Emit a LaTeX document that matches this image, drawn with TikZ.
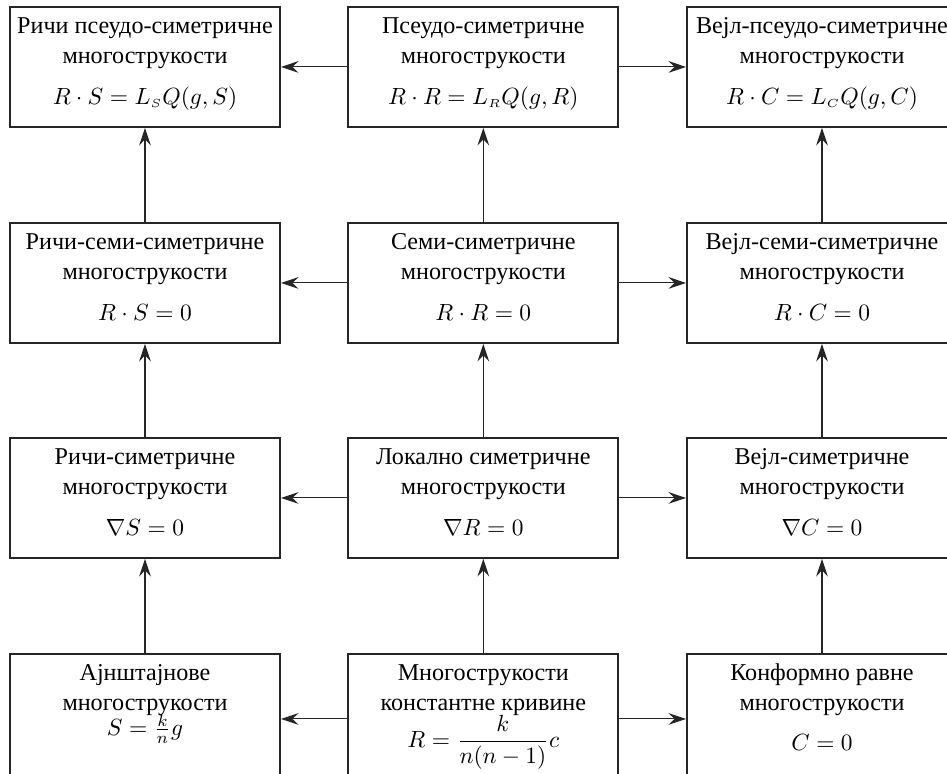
\documentclass[tikz,border=0pt]{standalone}
\usepackage[no-math]{fontspec}
\setmainfont{Liberation Serif}
\usepackage{amsmath}
\usetikzlibrary{arrows.meta,calc}
\def\mfrow{0.415}
\def\mfrowb{0.865}
\tikzset{
  mfframe/.style={draw=black!85,line width=0.8pt,minimum width=4.05cm,
      minimum height=1.8cm,inner sep=0pt},
  mftxt/.style={inner sep=0pt,font=\fontsize{10.3}{12}\selectfont},
  mfarr/.style={-{Stealth[length=7.5pt,width=5pt,inset=2.6pt]},line width=0.45pt,
      draw=black!85},
}
\newcommand{\mfbox}[8][]{%
  \node[mfframe,anchor=north,#1] (#4) at (#2,#3) {};
  \node[mftxt,anchor=base] (#4a) at ($(#4.north)+(0,-\mfrow)$) {#5};
  \node[mftxt,anchor=base] (#4b) at ($(#4.north)+(0,-\mfrowb)$) {#6};
  \node[mftxt,anchor=base] (#4f) at ($(#4.north)+(0,-#8)$) {#7};}
\newcommand{\Ls}[1]{L_{\scriptscriptstyle #1}}

\begin{document}
\begin{tikzpicture}[x=1cm,y=1cm]
  \useasboundingbox (0,0) rectangle (14.205,-11.595);
  \clip (0,0) rectangle (14.205,-11.595);

  \mfbox{2.175}{-0.09}{ricpse}{Ричи псеудо-симетричне}{многострукости}
    {$R\cdot S=\Ls{S}Q(g,S)$}{1.47}
  \mfbox{7.25}{-0.09}{pse}{Псеудо-симетричне}{многострукости}
    {$R\cdot R=\Ls{R}Q(g,R)$}{1.47}
  \mfbox{12.33}{-0.09}{weylpse}{Вејл-псеудо-симетричне}{многострукости}
    {$R\cdot C=\Ls{C}Q(g,C)$}{1.47}

  \mfbox{2.175}{-3.33}{ricsemi}{Ричи-семи-симетричне}{многострукости}
    {$R\cdot S=0$}{1.47}
  \mfbox{7.25}{-3.33}{semi}{Семи-симетричне}{многострукости}
    {$R\cdot R=0$}{1.47}
  \mfbox{12.33}{-3.33}{weylsemi}{Вејл-семи-симетричне}{многострукости}
    {$R\cdot C=0$}{1.47}

  \mfbox{2.175}{-6.555}{ricsym}{Ричи-симетричне}{многострукости}
    {$\nabla S=0$}{1.47}
  \mfbox{7.25}{-6.555}{locsym}{Локално симетричне}{многострукости}
    {$\nabla R=0$}{1.47}
  \mfbox{12.33}{-6.555}{weylsym}{Вејл-симетричне}{многострукости}
    {$\nabla C=0$}{1.47}

  \mfbox[minimum height=1.95cm]{2.175}{-9.795}{einst}{Ајнштајнове}{многострукости}
    {$S=\frac{k}{n}g$}{1.235}
  \mfbox[minimum height=1.95cm]{7.25}{-9.795}{constc}{Многострукости}{константне кривине}
    {$R=\dfrac{k}{n(n-1)}c$}{1.41}
  \mfbox[minimum height=1.95cm]{12.33}{-9.795}{confl}{Конформно равне}{многострукости}
    {$C=0$}{1.465}

  \foreach \a/\b in {einst/ricsym,ricsym/ricsemi,ricsemi/ricpse,
      constc/locsym,locsym/semi,semi/pse,confl/weylsym,weylsym/weylsemi,weylsemi/weylpse}
    \draw[mfarr] (\a.north) -- (\b.south);
  \foreach \a/\b/\c in {pse/ricpse/weylpse,semi/ricsemi/weylsemi,
      locsym/ricsym/weylsym,constc/einst/confl}{
    \draw[mfarr] (\a.west) -- (\b.east);
    \draw[mfarr] (\a.east) -- (\c.west);}
\end{tikzpicture}
\end{document}
